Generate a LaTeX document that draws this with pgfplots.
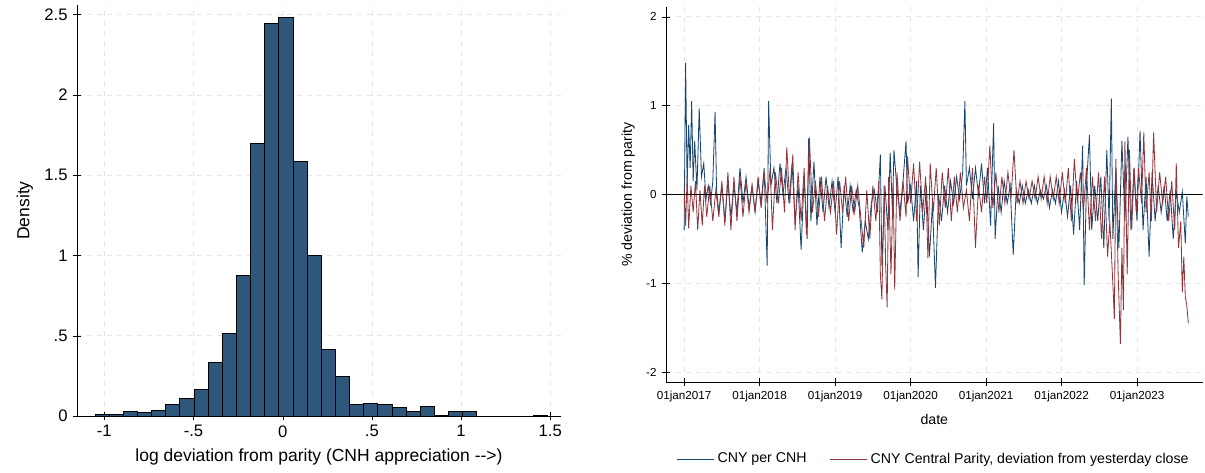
\documentclass[border=0pt]{standalone}
\usepackage{pgfplots}
\pgfplotsset{compat=1.18}
\usepackage{fontspec}
\setmainfont{Liberation Sans}
\definecolor{sblue}{HTML}{1A476F}
\definecolor{hblue}{HTML}{2F577C}
\definecolor{sred}{HTML}{90353B}
\pgfplotsset{every axis/.append style={/pgf/number format/assume math mode=true, tick style={black}, tick align=outside, axis line style={black}, grid style={dashed, gray!20}, grid=major}}
\begin{document}
\begin{tikzpicture}
\path (0pt,0pt) rectangle (723pt,-281.4pt);
\begin{axis}[at={(46.2pt,-249.6pt)}, anchor=south west, scale only axis, width=290.4pt, height=246.6pt,
 axis lines=left, axis line style={-}, xmin=-1.153, xmax=1.56, ymin=0, ymax=2.56,
 xtick={-1,-0.5,0,0.5,1,1.5}, xticklabels={-1,-.5,0,.5,1,1.5},
 ytick={0,0.5,1,1.5,2,2.5}, yticklabels={0,.5,1,1.5,2,2.5},
 ticklabel style={font=\fontsize{10}{12}\selectfont}, label style={font=\fontsize{10.5}{12}\selectfont},
 xlabel={log deviation from parity (CNH appreciation -{}-{}>)}, ylabel={Density}]
\addplot[ybar interval, fill=hblue, draw=black, line width=0.6pt] table {
x y
-1.052 0.012
-0.973 0.012
-0.894 0.025
-0.814 0.019
-0.735 0.037
-0.656 0.069
-0.577 0.106
-0.497 0.162
-0.418 0.336
-0.339 0.517
-0.259 0.878
-0.180 1.699
-0.101 2.446
-0.021 2.483
0.058 1.588
0.137 1.001
0.217 0.415
0.296 0.247
0.375 0.069
0.455 0.081
0.534 0.069
0.613 0.056
0.693 0.031
0.772 0.062
0.851 0.006
0.931 0.025
1.010 0.031
1.089 0.031
};
\addplot[ybar interval, fill=hblue, draw=black, line width=0.6pt] table {
x y
1.406 0.006
1.486 0.006
};
\end{axis}
\begin{axis}[at={(399.6pt,-229.2pt)}, anchor=south west, scale only axis, width=322pt, height=225pt,
 axis lines=left, axis line style={-}, xmin=2016.76, xmax=2023.87, ymin=-2.11, ymax=2.11,
 xtick={2017,2018,2019,2020,2021,2022,2023},
 xticklabels={01jan2017,01jan2018,01jan2019,01jan2020,01jan2021,01jan2022,01jan2023},
 ytick={-2,-1,0,1,2}, ticklabel style={font=\fontsize{7}{8}\selectfont},
 label style={font=\fontsize{8.5}{9}\selectfont},
 xlabel={date}, ylabel={\% deviation from parity},
 legend style={draw=none, at={(0.5,-0.17)}, anchor=north, legend columns=2, font=\fontsize{8.5}{10}\selectfont, /tikz/every even column/.append style={column sep=12pt}},
 legend image code/.code={\draw[#1] (0pt,0pt) -- (22pt,0pt);}]
\addplot[sblue, line width=0.5pt] table {
x y
2017.00 -0.40
2017.02 1.48
2017.04 0.10
2017.06 0.78
2017.08 0.30
2017.10 1.05
2017.12 0.15
2017.14 0.60
2017.17 0.05
2017.20 0.97
2017.23 0.20
2017.26 0.35
2017.29 -0.05
2017.32 0.10
2017.35 -0.10
2017.38 0.15
2017.41 0.93
2017.43 0.05
2017.46 -0.20
2017.50 0.10
2017.54 -0.30
2017.58 0.15
2017.62 -0.25
2017.66 0.10
2017.70 -0.20
2017.74 0.30
2017.78 -0.10
2017.82 0.20
2017.86 -0.15
2017.90 0.10
2017.94 -0.20
2017.98 0.15
2018.02 -0.10
2018.06 0.30
2018.10 -0.80
2018.12 1.05
2018.15 0.10
2018.19 0.30
2018.23 -0.10
2018.27 0.35
2018.31 0.00
2018.35 0.30
2018.39 -0.10
2018.43 0.35
2018.47 -0.30
2018.51 0.10
2018.55 -0.62
2018.59 0.20
2018.63 -0.50
2018.65 0.63
2018.68 -0.30
2018.72 0.37
2018.76 -0.35
2018.80 0.20
2018.84 -0.20
2018.88 0.20
2018.92 -0.15
2018.96 0.15
2019.00 -0.20
2019.04 0.20
2019.08 -0.60
2019.12 0.10
2019.16 -0.25
2019.20 0.10
2019.24 -0.20
2019.28 0.05
2019.32 -0.15
2019.36 -0.65
2019.40 -0.30
2019.44 -0.50
2019.48 -0.10
2019.52 0.05
2019.56 -0.20
2019.60 0.45
2019.62 -0.80
2019.66 0.10
2019.70 -0.40
2019.73 0.47
2019.76 -0.20
2019.78 0.50
2019.82 0.05
2019.86 -0.20
2019.90 0.15
2019.94 0.60
2019.96 -0.10
2020.00 0.10
2020.04 -0.30
2020.08 0.15
2020.10 -0.93
2020.13 0.10
2020.17 -0.40
2020.21 0.10
2020.25 -0.70
2020.29 -0.10
2020.33 -1.05
2020.37 0.00
2020.41 -0.30
2020.45 0.10
2020.49 -0.20
2020.53 0.15
2020.57 -0.10
2020.61 0.20
2020.65 -0.05
2020.69 0.25
2020.72 1.05
2020.74 0.10
2020.78 0.30
2020.82 -0.05
2020.86 0.30
2020.90 0.00
2020.94 0.35
2020.98 -0.10
2021.02 0.30
2021.06 -0.35
2021.10 0.80
2021.12 -0.50
2021.16 0.10
2021.20 -0.20
2021.24 0.15
2021.28 -0.10
2021.32 0.10
2021.36 -0.68
2021.40 0.05
2021.44 -0.10
2021.48 0.10
2021.52 -0.10
2021.56 0.05
2021.60 -0.10
2021.64 0.10
2021.68 -0.10
2021.72 0.05
2021.76 -0.05
2021.80 0.10
2021.84 -0.15
2021.88 0.05
2021.92 -0.10
2021.96 0.15
2022.00 -0.20
2022.04 0.05
2022.08 -0.25
2022.12 0.10
2022.16 -0.45
2022.20 0.15
2022.24 -0.40
2022.28 0.55
2022.30 -1.02
2022.33 0.10
2022.37 0.67
2022.40 -0.40
2022.44 0.10
2022.48 -0.30
2022.52 0.20
2022.56 -0.60
2022.60 0.50
2022.63 -0.30
2022.66 1.08
2022.68 -0.50
2022.72 0.30
2022.76 -0.60
2022.80 0.60
2022.84 -0.30
2022.88 0.65
2022.92 -0.40
2022.96 0.30
2023.00 -0.30
2023.04 0.72
2023.08 -0.40
2023.12 0.20
2023.16 -0.70
2023.20 0.25
2023.24 -0.30
2023.28 0.10
2023.32 -0.20
2023.36 0.10
2023.40 -0.30
2023.44 0.05
2023.48 -0.50
2023.52 0.03
2023.56 -0.20
2023.60 0.03
2023.64 -0.55
2023.66 -0.02
2023.68 -0.25
};
\addlegendentry{CNY per CNH}
\addplot[sred, line width=0.5pt] table {
x y
2017.00 0.05
2017.02 -0.35
2017.04 0.20
2017.06 -0.38
2017.09 0.10
2017.12 -0.20
2017.15 0.15
2017.18 -0.40
2017.21 0.05
2017.24 -0.35
2017.27 0.10
2017.30 -0.25
2017.34 0.10
2017.38 -0.30
2017.42 0.05
2017.46 -0.25
2017.50 0.15
2017.54 -0.35
2017.58 0.25
2017.62 -0.40
2017.66 0.20
2017.70 -0.30
2017.74 0.20
2017.78 -0.25
2017.82 0.15
2017.86 -0.20
2017.90 0.10
2017.94 -0.20
2017.98 0.20
2018.02 -0.15
2018.06 0.25
2018.10 -0.10
2018.14 0.30
2018.17 -0.40
2018.21 0.25
2018.25 -0.10
2018.29 0.30
2018.33 -0.20
2018.36 0.53
2018.40 -0.10
2018.44 0.45
2018.47 -0.40
2018.51 0.25
2018.55 -0.30
2018.59 0.30
2018.62 -0.45
2018.66 0.64
2018.70 -0.20
2018.74 0.15
2018.78 -0.25
2018.82 0.20
2018.86 -0.30
2018.90 0.10
2018.94 -0.20
2018.98 0.15
2019.02 -0.45
2019.06 0.15
2019.10 -0.20
2019.14 0.20
2019.18 -0.30
2019.22 0.10
2019.26 -0.20
2019.30 0.10
2019.34 -0.25
2019.38 -0.60
2019.42 0.05
2019.46 -0.50
2019.50 0.10
2019.54 -0.30
2019.58 0.15
2019.60 -0.90
2019.62 -1.18
2019.65 0.10
2019.67 -0.80
2019.69 -1.27
2019.71 0.20
2019.74 -0.90
2019.77 0.10
2019.79 -1.07
2019.82 0.25
2019.86 -0.30
2019.90 0.15
2019.94 -0.25
2019.96 0.43
2020.00 -0.10
2020.04 0.35
2020.08 -0.30
2020.12 0.37
2020.16 -0.20
2020.20 0.20
2020.23 -0.72
2020.26 0.35
2020.30 -0.20
2020.34 0.30
2020.38 -0.35
2020.42 0.25
2020.46 -0.15
2020.50 0.30
2020.54 -0.30
2020.58 0.20
2020.62 -0.20
2020.66 0.25
2020.70 -0.15
2020.74 0.05
2020.78 -0.30
2020.82 0.30
2020.86 -0.60
2020.90 0.10
2020.94 -0.20
2020.98 0.20
2021.01 -0.10
2021.05 0.55
2021.09 -0.15
2021.13 0.25
2021.17 -0.20
2021.21 0.20
2021.25 -0.10
2021.29 0.25
2021.33 -0.05
2021.37 0.50
2021.41 -0.10
2021.45 0.15
2021.49 -0.10
2021.53 0.15
2021.57 -0.05
2021.61 0.15
2021.65 -0.05
2021.69 0.20
2021.73 -0.05
2021.77 0.20
2021.81 -0.10
2021.85 0.20
2021.89 -0.05
2021.93 0.20
2021.97 -0.10
2022.01 0.25
2022.05 -0.10
2022.09 0.30
2022.13 -0.30
2022.17 0.40
2022.21 -0.10
2022.25 0.25
2022.29 -0.20
2022.33 0.30
2022.37 -0.40
2022.41 0.20
2022.45 -0.30
2022.49 0.25
2022.53 -0.50
2022.57 0.20
2022.61 -0.70
2022.64 -0.30
2022.68 -1.00
2022.70 -1.40
2022.72 0.40
2022.75 -0.90
2022.78 -1.68
2022.80 -0.60
2022.82 -1.30
2022.84 0.60
2022.87 -0.90
2022.90 0.50
2022.93 -0.40
2022.96 0.30
2022.99 -0.20
2023.02 0.30
2023.06 -0.10
2023.09 0.70
2023.12 -0.20
2023.16 0.25
2023.19 -0.30
2023.22 0.70
2023.26 -0.20
2023.30 0.25
2023.34 -0.10
2023.38 0.20
2023.42 -0.30
2023.46 0.15
2023.50 -0.40
2023.52 0.35
2023.55 -0.60
2023.58 -0.30
2023.60 -1.10
2023.62 -0.70
2023.64 -1.15
2023.66 -1.25
2023.68 -1.45
};
\addlegendentry{CNY Central Parity, deviation from yesterday close}
\addplot[black, line width=0.6pt, forget plot] coordinates {(2016.76,0) (2023.87,0)};
\end{axis}
\end{tikzpicture}
\end{document}
